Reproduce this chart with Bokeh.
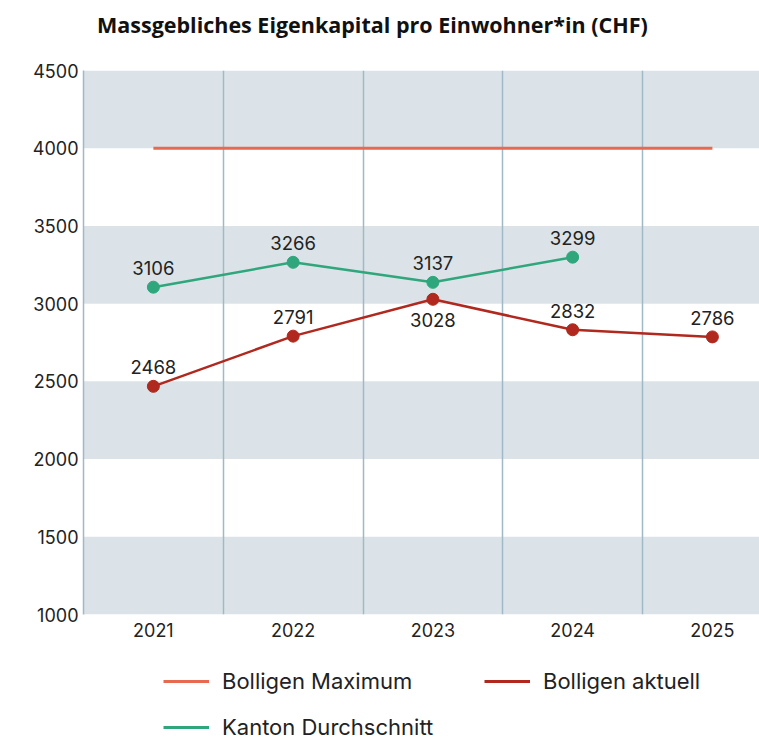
from bokeh.plotting import figure
from bokeh.layouts import column
from bokeh.models import (ColumnDataSource, FixedTicker, Legend, LegendItem,
                          LabelSet, Range1d, Div)
from bokeh.embed import file_html
from bokeh.resources import INLINE
from bokeh.core.properties import value

# ---- data ----
title_text = "Massgebliches Eigenkapital pro Einwohner*in (CHF)"
years = ["2021", "2022", "2023", "2024", "2025"]
maximum = [4000, 4000, 4000, 4000, 4000]
aktuell = [2468, 2791, 3028, 2832, 2786]
kanton = [3106, 3266, 3137, 3299]
y_ticks = [1000, 1500, 2000, 2500, 3000, 3500, 4000, 4500]
series_names = ["Bolligen Maximum", "Bolligen aktuell", "Kanton Durchschnitt"]

FONT = "Inter"
C_MAX = "#e8694f"
C_AKT = "#b0281e"
C_KAN = "#2fa67b"
C_GRID = "#9fb9c7"
C_BAND = "#dbe3e8"
C_TEXT = "#222222"

xs = list(range(len(years)))

# ---- title ----
head = Div(text=title_text, width=759, height=50, margin=0,
           styles={"font-family": "'Open Sans'", "font-weight": "bold",
                   "font-size": "21.5px", "color": "#111111",
                   "line-height": "50px", "padding-left": "97px",
                   "white-space": "nowrap"})

# ---- main plot ----
p = figure(width=759, height=610, output_backend="svg", toolbar_location=None,
           x_range=Range1d(-0.5, 4.337), y_range=Range1d(y_ticks[0], y_ticks[-1]),
           min_border_left=83, min_border_right=0, min_border_top=20,
           min_border_bottom=46)
p.outline_line_color = None
p.background_fill_color = "white"

# axes
p.xaxis.ticker = FixedTicker(ticks=xs)
p.xaxis.major_label_overrides = {i: y for i, y in enumerate(years)}
p.yaxis.ticker = FixedTicker(ticks=y_ticks)
for ax in (p.xaxis[0], p.yaxis[0]):
    ax.major_tick_line_color = None
    ax.minor_tick_line_color = None
    ax.major_tick_out = 0
    ax.major_label_text_font = FONT
    ax.major_label_text_font_size = "18px"
    ax.major_label_text_color = C_TEXT
p.xaxis.axis_line_color = None
p.xaxis.major_label_standoff = 8
p.yaxis.axis_line_color = C_GRID
p.yaxis.axis_line_width = 1.5
p.yaxis.major_label_standoff = 5

# grids: horizontal bands (1000-1500, 2000-2500, ...) under the vertical separators
# (bokeh fills every odd interval; the repeated first tick shifts the pattern)
p.ygrid.level = "image"
p.ygrid.ticker = FixedTicker(ticks=[y_ticks[0]] + y_ticks)
p.ygrid.grid_line_color = None
p.ygrid.band_fill_color = C_BAND
p.ygrid.band_fill_alpha = 1.0
p.xgrid.ticker = FixedTicker(ticks=[i + 0.5 for i in xs[:-1]])
p.xgrid.grid_line_color = C_GRID
p.xgrid.grid_line_width = 1.5

# series
src_max = ColumnDataSource(dict(x=xs, y=maximum))
p.line("x", "y", source=src_max, line_color=C_MAX, line_width=3)

akt_off = []
for i, v in enumerate(aktuell):
    below = i < len(kanton) and 0 < kanton[i] - v < 200
    akt_off.append(-21 if below else 19)
src_akt = ColumnDataSource(dict(x=xs, y=aktuell, lab=[str(v) for v in aktuell],
                                off=akt_off))
p.line("x", "y", source=src_akt, line_color=C_AKT, line_width=2.5)
p.scatter("x", "y", source=src_akt, size=12, fill_color=C_AKT, line_color=C_AKT)

src_kan = ColumnDataSource(dict(x=xs[:len(kanton)], y=kanton,
                                lab=[str(v) for v in kanton],
                                off=[19] * len(kanton)))
p.line("x", "y", source=src_kan, line_color=C_KAN, line_width=2.5)
p.scatter("x", "y", source=src_kan, size=12, fill_color=C_KAN, line_color=C_KAN)

for src in (src_akt, src_kan):
    p.add_layout(LabelSet(x="x", y="y", text="lab", y_offset="off", source=src,
                          text_align="center", text_baseline="middle",
                          text_font=value(FONT), text_font_size="18.5px",
                          text_color=C_TEXT))

# ---- legend strip (separate figure so it is not clipped by the plot frame) ----
lg = figure(width=759, height=80, output_backend="svg", toolbar_location=None,
            x_range=Range1d(0, 1), y_range=Range1d(0, 1),
            min_border=0, min_border_left=0, min_border_right=0,
            min_border_top=0, min_border_bottom=0)
lg.axis.visible = False
lg.grid.visible = False
lg.outline_line_color = None
key = {}
for name, col, ys in zip(series_names, [C_MAX, C_AKT, C_KAN],
                         [maximum, aktuell, kanton]):
    # same series, outside this strip's view: only used as legend keys
    key[name] = lg.line(x=xs[:len(ys)], y=ys, line_color=col, line_width=3)

# column-major fill: col 1 = Maximum, Kanton ; col 2 = aktuell
legend = Legend(items=[LegendItem(label=n, renderers=[key[n]]) for n in
                       [series_names[0], series_names[2], series_names[1]]],
                ncols=2, location=(80, 0))
legend.label_text_font = FONT
legend.label_text_font_size = "22px"
legend.label_text_color = C_TEXT
legend.glyph_width = 46
legend.glyph_height = 20
legend.label_standoff = 13
legend.label_width = 242
legend.spacing = 20
legend.padding = 0
legend.margin = 0
legend.border_line_color = None
legend.background_fill_alpha = 0
lg.add_layout(legend, "center")

open("out.html", "w").write(file_html(column(head, p, lg, spacing=0), INLINE))
